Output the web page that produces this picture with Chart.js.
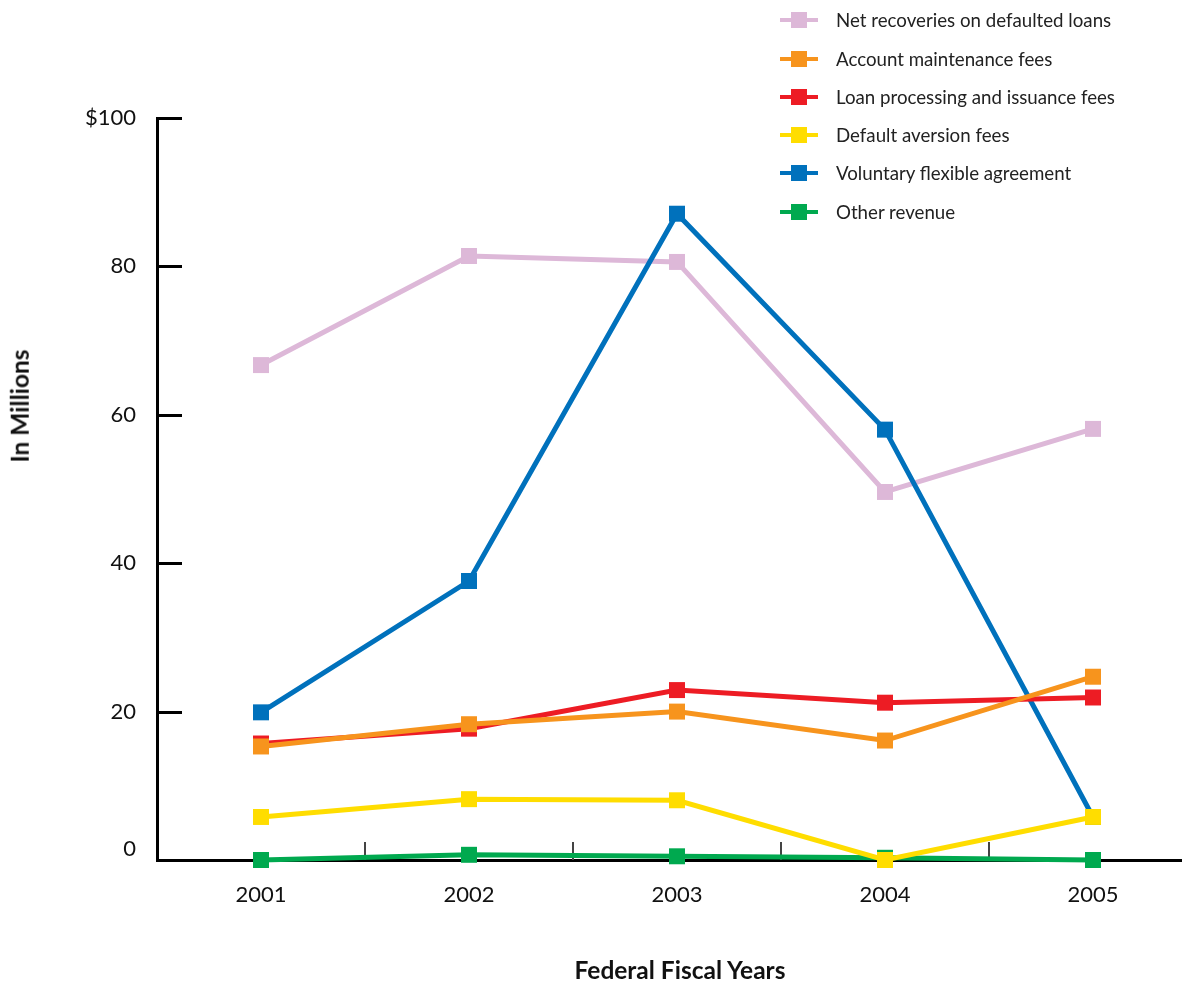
<!DOCTYPE html>
<html>
<head>
<meta charset="utf-8">
<title>Revenue by source</title>
<script src="https://cdn.jsdelivr.net/npm/chart.js@4.4.1/dist/chart.umd.min.js"></script>
<style>
	html, body { margin: 0; overflow: hidden; background: #fff; font-family: Lato, sans-serif; }
	#wrap { position: relative; width: 1182px; height: 982px; overflow: hidden; }
	#wrap canvas { display: block; }
	#legend { position: absolute; left: 780px; top: 0; width: 400px; height: 230px; }
	.item { position: absolute; left: 0; height: 20px; width: 400px; }
	.item .line { position: absolute; left: 0; top: 8px; width: 38px; height: 4px; }
	.item .box { position: absolute; left: 11px; top: 2px; width: 16px; height: 16px; }
	.item span { position: absolute; left: 56px; top: 0; line-height: 20px; font-size: 18.7px; color: #222; white-space: nowrap; }
	.axistitle { position: absolute; font-weight: bold; font-size: 24.5px; line-height: 1; color: #111; white-space: nowrap; }
	#ytitle { left: 20px; top: 406px; transform: translate(-50%, -50%) rotate(-90deg); }
	#xtitle { left: 680px; top: 970px; transform: translate(-50%, -50%); }
</style>
</head>
<body>
<div id="wrap">
	<canvas id="revenue" width="1182" height="982"></canvas>
	<div id="legend"></div>
	<div class="axistitle" id="ytitle">In Millions</div>
	<div class="axistitle" id="xtitle">Federal Fiscal Years</div>
</div>
<script>
//data
const years = [2001, 2002, 2003, 2004, 2005];
const yTicks = [0, 20, 40, 60, 80, 100];
const seriesNames = [
	"Net recoveries on defaulted loans",
	"Account maintenance fees",
	"Loan processing and issuance fees",
	"Default aversion fees",
	"Voluntary flexible agreement",
	"Other revenue",
];
const netRecoveries = [66.7, 81.4, 80.6, 49.6, 58.1];
const maintenanceFees = [15.3, 18.3, 20.0, 16.1, 24.7];
const processingFees = [15.7, 17.7, 22.9, 21.2, 21.9];
const aversionFees = [5.8, 8.2, 8.05, 0.0, 5.8];
const voluntaryAgreement = [19.9, 37.6, 87.1, 58.0, 5.8];
const otherRevenue = [0.0, 0.7, 0.5, 0.3, 0.0];
const seriesColors = ["#ddb8d8", "#f7941d", "#ed1c24", "#ffdd00", "#0071bc", "#00a94f"];
// lower = drawn on top
const drawOrder = [5, 2, 3, 0, 4, 1];

const seriesValues = [netRecoveries, maintenanceFees, processingFees, aversionFees, voluntaryAgreement, otherRevenue];

//legend
let legend = document.getElementById("legend");
const legendRows = [20, 59, 97, 135, 173, 212];
seriesNames.forEach(function (name, i) {
	let item = document.createElement("div");
	item.className = "item";
	item.style.top = legendRows[i] - 10 + "px";
	item.innerHTML = '<div class="line"></div><div class="box"></div><span></span>';
	item.querySelector(".line").style.background = seriesColors[i];
	item.querySelector(".box").style.background = seriesColors[i];
	item.querySelector("span").textContent = name;
	legend.appendChild(item);
});

//tick marks inside the plot
const innerTicks = {
	id: "innerTicks",
	beforeDatasetsDraw(chart) {
		const { ctx, chartArea, scales } = chart;
		ctx.save();
		ctx.strokeStyle = "#000";
		ctx.lineWidth = 3;
		yTicks.forEach(function (v) {
			if (v === 0) return;
			let py = Math.round(scales.y.getPixelForValue(v)) + 0.5;
			ctx.beginPath();
			ctx.moveTo(chartArea.left, py);
			ctx.lineTo(chartArea.left + 25, py);
			ctx.stroke();
		});
		ctx.strokeStyle = "#444";
		ctx.lineWidth = 2;
		for (let i = 0; i < years.length - 1; i++) {
			let px = Math.round(scales.x.getPixelForValue(years[i] + 0.5));
			ctx.beginPath();
			ctx.moveTo(px, chartArea.bottom);
			ctx.lineTo(px, chartArea.bottom - 18);
			ctx.stroke();
		}
		ctx.restore();
	},
};

let revenue = document.getElementById("revenue").getContext("2d");
let revenueChart = new Chart(revenue, {
	type: "line",
	data: {
		datasets: seriesNames.map(function (name, i) {
			return {
				label: name,
				data: years.map(function (yr, j) {
					return { x: yr, y: seriesValues[i][j] };
				}),
				borderColor: seriesColors[i],
				backgroundColor: seriesColors[i],
				borderWidth: 5,
				pointStyle: "rect",
				pointRadius: 11.3,
				pointBorderWidth: 0,
				tension: 0,
				clip: false,
				order: drawOrder[i],
			};
		}),
	},
	options: {
		responsive: false,
		animation: false,
		layout: {
			autoPadding: false,
			padding: { top: 118, right: 0, bottom: 0, left: 0 },
		},
		scales: {
			x: {
				type: "linear",
				min: 2000.5,
				max: 2000.5 + 1025 / 208,
				grid: { display: false },
				border: { display: true, color: "#000", width: 3 },
				afterBuildTicks: function (scale) {
					scale.ticks = years.map(function (v) {
						return { value: v };
					});
				},
				afterFit: function (scale) {
					scale.height = 122;
					scale.paddingLeft = 0;
					scale.paddingRight = 0;
				},
				ticks: {
					padding: 14,
					color: "#111",
					font: { family: "Lato", size: 22 },
					callback: function (v) {
						return String(v);
					},
				},
			},
			y: {
				min: 0,
				max: 100,
				grid: { display: false },
				border: { display: true, color: "#000", width: 3 },
				afterBuildTicks: function (scale) {
					scale.ticks = yTicks.map(function (v) {
						return { value: v };
					});
				},
				afterFit: function (scale) {
					scale.width = 157;
				},
				ticks: {
					padding: 13,
					color: "#111",
					font: { family: "Lato", size: 22, lineHeight: 1 },
					callback: function (v) {
						// the zero label sits a little above the axis in the original
						if (v === 0) return ["0", ""];
						return v === 100 ? "$100" : v;
					},
				},
			},
		},
		plugins: {
			legend: { display: false },
			tooltip: { enabled: false },
		},
	},
	plugins: [innerTicks],
});
</script>
</body>
</html>
